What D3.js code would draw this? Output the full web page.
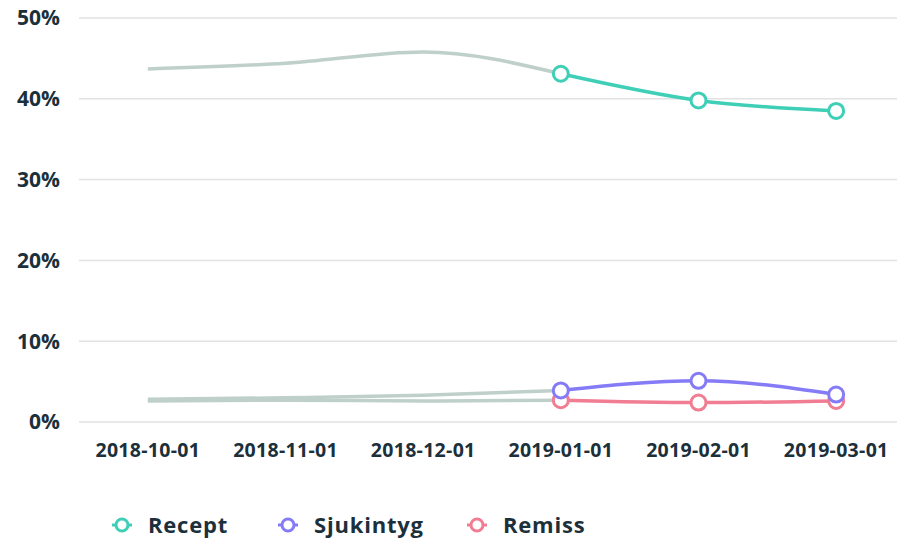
<!DOCTYPE html>
<html>
<head>
<meta charset="utf-8">
<script src="https://cdn.jsdelivr.net/npm/d3@7"></script>
<style>
  body { margin: 0; background: #fff; }
  text { font-family: "Open Sans", sans-serif; font-weight: bold; fill: #1b303b; }
</style>
</head>
<body>
<svg id="chart" width="897" height="542"></svg>
<script>
var months = ["2018-10-01", "2018-11-01", "2018-12-01", "2019-01-01", "2019-02-01", "2019-03-01"];
var recept = [43.7, 44.4, 45.8, 43.1, 39.8, 38.5];
var sjukintyg = [2.8, 3.0, 3.3, 3.9, 5.1, 3.4];
var remiss = [2.6, 2.7, 2.6, 2.7, 2.4, 2.6];
var yTicks = [0, 10, 20, 30, 40, 50];

var series = [
    { name: "Recept", values: recept, color: "#3fcfb7" },
    { name: "Sjukintyg", values: sjukintyg, color: "#857bf6" },
    { name: "Remiss", values: remiss, color: "#f07d91" }
];
var grey = "#bfd0cb";
var split = 3; // first highlighted month

var svg = d3.select("#chart");

var x = d3.scalePoint().domain(months).range([79, 905]).padding(0.5);
var y = d3.scaleLinear().domain([0, 50]).range([422, 18]);

// grid
svg.append("g").selectAll("line").data(yTicks).enter().append("line")
    .attr("x1", 79).attr("x2", 897)
    .attr("y1", function (d) { return y(d); })
    .attr("y2", function (d) { return y(d); })
    .attr("stroke", "#e2e2e2").attr("stroke-width", 1.5);

svg.append("g").selectAll("text").data(yTicks).enter().append("text")
    .attr("x", 60).attr("y", function (d) { return y(d); })
    .attr("dy", "0.35em").attr("text-anchor", "end")
    .style("font-size", "21px")
    .text(function (d) { return d + "%"; });

svg.append("g").selectAll("text").data(months).enter().append("text")
    .attr("x", function (d) { return x(d); }).attr("y", 450)
    .attr("dy", "0.35em").attr("text-anchor", "middle")
    .style("font-size", "19.5px").style("letter-spacing", "0.3px")
    .text(function (d) { return d; });

var line = d3.line()
    .x(function (d) { return x(d.m); })
    .y(function (d) { return y(d.v); })
    .curve(d3.curveMonotoneX);

function pts(s) {
    return s.values.map(function (v, i) { return { m: months[i], v: v }; });
}

// grey history part
series.forEach(function (s) {
    svg.append("path").datum(pts(s).slice(0, split + 1))
        .attr("d", line).attr("fill", "none")
        .attr("stroke", grey).attr("stroke-width", 3.5);
});

// coloured recent part
series.slice().reverse().forEach(function (s) {
    var p = pts(s).slice(split);
    var g = svg.append("g");
    g.append("path").datum(p).attr("d", line).attr("fill", "none")
        .attr("stroke", s.color).attr("stroke-width", 3.5);
    g.selectAll("circle").data(p).enter().append("circle")
        .attr("cx", function (d) { return x(d.m); })
        .attr("cy", function (d) { return y(d.v); })
        .attr("r", 7.5).attr("fill", "#fff")
        .attr("stroke", s.color).attr("stroke-width", 3);
});

// legend
var legX = [122, 288, 477];
var leg = svg.append("g").selectAll("g").data(series).enter().append("g")
    .attr("transform", function (d, i) { return "translate(" + legX[i] + ",525)"; });
leg.append("line").attr("x1", -10).attr("x2", 10)
    .attr("stroke", function (d) { return d.color; }).attr("stroke-width", 3);
leg.append("circle").attr("r", 6).attr("fill", "#fff")
    .attr("stroke", function (d) { return d.color; }).attr("stroke-width", 3);
leg.append("text").attr("x", 26).attr("dy", "0.35em")
    .style("font-size", "22px").style("letter-spacing", "0.8px")
    .text(function (d) { return d.name; });
</script>
</body>
</html>
